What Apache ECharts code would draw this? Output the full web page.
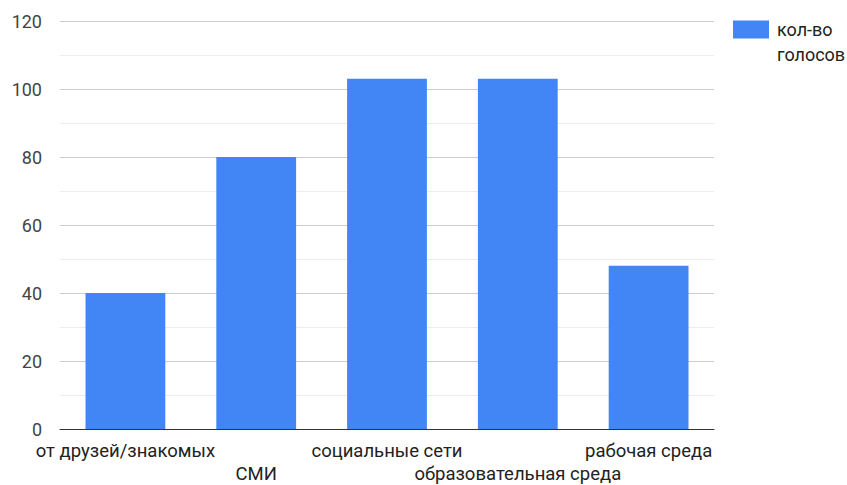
<!DOCTYPE html>
<html>
<head>
<meta charset="utf-8">
<script src="https://cdn.jsdelivr.net/npm/echarts@6/dist/echarts.min.js"></script>
<style>html,body{margin:0;padding:0;background:#fff}#c{width:847px;height:485px}</style>
</head>
<body>
<div id="c"></div>
<script>
const categories = ['от друзей/знакомых', 'СМИ', 'социальные сети', 'образовательная среда', 'рабочая среда'];
const seriesName = 'кол-во голосов';
const votes = [40, 80, 103, 103, 48];
const yTicks = [0, 20, 40, 60, 80, 100, 120];

const chart = echarts.init(document.getElementById('c'), null, {renderer: 'svg'});
chart.setOption({
  animation: false,
  textStyle: {fontFamily: 'Roboto'},
  grid: {left: 60, right: 133, top: 21, bottom: 55, containLabel: false},
  legend: {
    left: 733, top: -8, padding: 0,
    itemWidth: 36, itemHeight: 18, itemGap: 0,
    icon: 'rect',
    formatter: n => '\n' + n.replace(' ', '\n'),
    textStyle: {fontSize: 18, color: '#222', lineHeight: 25, padding: [0, 0, 0, 3]}
  },
  xAxis: {
    type: 'category',
    data: categories,
    axisTick: {show: false},
    axisLine: {lineStyle: {color: '#333', width: 1}},
    axisLabel: {
      interval: 0, fontSize: 18.5, color: '#222', lineHeight: 23, margin: 10,
      formatter: (v, i) => (i % 2 === 1 ? '\n' + v : v)
    }
  },
  yAxis: {
    type: 'value',
    min: yTicks[0], max: yTicks[yTicks.length - 1], interval: 20,
    axisLine: {show: false}, axisTick: {show: false},
    axisLabel: {fontSize: 18, color: '#444', margin: 18},
    splitLine: {lineStyle: {color: '#ccc', width: 1}},
    minorTick: {show: false, splitNumber: 2},
    minorSplitLine: {show: true, lineStyle: {color: '#ececec', width: 1}}
  },
  series: [{
    name: seriesName,
    type: 'bar',
    data: votes,
    barWidth: '61%',
    itemStyle: {color: '#4285F4'}
  }]
});
</script>
</body>
</html>
